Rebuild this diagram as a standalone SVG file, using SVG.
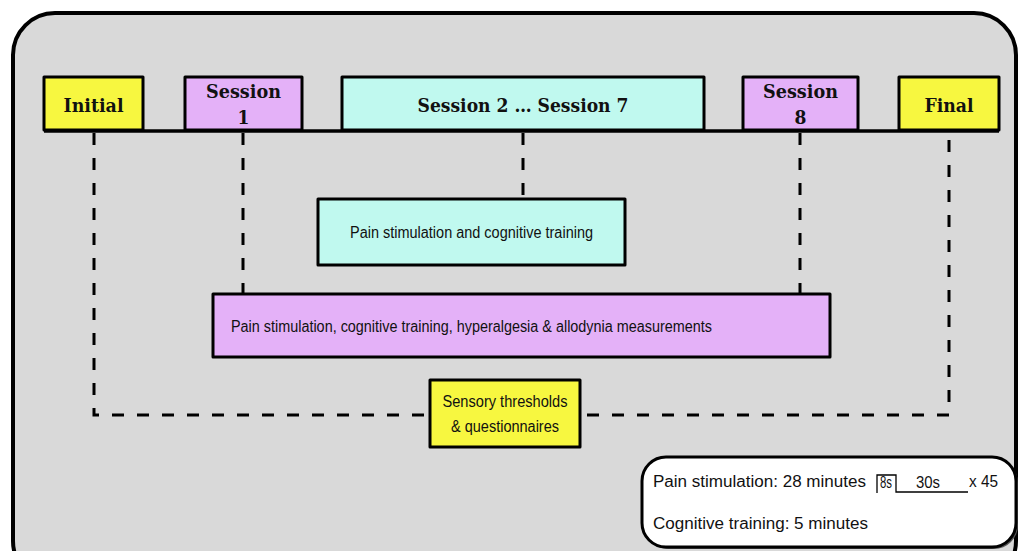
<svg xmlns="http://www.w3.org/2000/svg" width="1019" height="551" viewBox="0 0 1019 551">
<style>
.box{stroke:#000;stroke-width:3;stroke-linejoin:round}
.y{fill:#f7f740}.p{fill:#e4b1f8}.c{fill:#c0f9ef}
.t{font-family:"DejaVu Serif Condensed","DejaVu Serif",serif;font-weight:bold;font-size:19px;fill:#111;text-anchor:middle}
.b{font-family:"Liberation Sans",Arial,sans-serif;font-size:16px;fill:#111;text-anchor:middle}
.l{font-family:"Liberation Sans",Arial,sans-serif;font-size:16px;fill:#111}
.dash{fill:none;stroke:#000;stroke-width:3;stroke-dasharray:12 13}
</style>
<rect x="13" y="13" width="1003" height="570" rx="42" fill="#d9d9d9" stroke="#000" stroke-width="4"/>
<g id="connectors">
<line x1="44" y1="131" x2="999" y2="131" stroke="#000" stroke-width="3.5"/>
<polyline class="dash" points="94,133 94,415 949,415 949,133"/>
<line class="dash" x1="243" y1="133" x2="243" y2="293"/>
<line class="dash" x1="523" y1="133" x2="523" y2="198"/>
<line class="dash" x1="800" y1="133" x2="800" y2="293"/>
</g>
<g id="initial"><rect class="box y" x="44" y="77" width="99" height="53"/><text class="t" x="93.5" y="112" textLength="60" lengthAdjust="spacingAndGlyphs">Initial</text></g>
<g id="session1"><rect class="box p" x="185" y="77" width="117" height="53"/><text class="t" x="243.5" y="98" textLength="75" lengthAdjust="spacingAndGlyphs">Session</text><text class="t" x="243.5" y="124">1</text></g>
<g id="session27"><rect class="box c" x="342" y="77" width="362" height="53"/><text class="t" x="523" y="112" textLength="211" lengthAdjust="spacingAndGlyphs">Session 2 … Session 7</text></g>
<g id="session8"><rect class="box p" x="743" y="77" width="115" height="53"/><text class="t" x="800.5" y="98" textLength="75" lengthAdjust="spacingAndGlyphs">Session</text><text class="t" x="800.5" y="124">8</text></g>
<g id="final"><rect class="box y" x="899" y="77" width="100" height="53"/><text class="t" x="949" y="112" textLength="49" lengthAdjust="spacingAndGlyphs">Final</text></g>
<g id="pain-cog"><rect class="box c" x="318" y="199" width="307" height="66"/><text class="b" x="471.5" y="238" textLength="243" lengthAdjust="spacingAndGlyphs">Pain stimulation and cognitive training</text></g>
<g id="pain-full"><rect class="box p" x="213" y="294" width="617" height="63"/><text class="b" x="471.5" y="332" textLength="481" lengthAdjust="spacingAndGlyphs">Pain stimulation, cognitive training, hyperalgesia &amp; allodynia measurements</text></g>
<g id="sensory"><rect class="box y" x="430" y="380" width="150" height="67"/><text class="b" x="505" y="407" textLength="125" lengthAdjust="spacingAndGlyphs">Sensory thresholds</text><text class="b" x="505" y="432" textLength="108" lengthAdjust="spacingAndGlyphs">&amp; questionnaires</text></g>
<g id="legend">
<rect x="644" y="459" width="374" height="90" rx="24" fill="#555"/>
<rect x="642" y="457" width="374" height="90" rx="24" fill="#fff" stroke="#000" stroke-width="3"/>
<text class="l" x="653" y="487" textLength="213" lengthAdjust="spacingAndGlyphs">Pain stimulation: 28 minutes</text>
<polyline points="877,493 877,475 896,475 896,492 968,492" fill="none" stroke="#000" stroke-width="1.3"/>
<text class="l" x="880" y="488" font-size="9" textLength="12" lengthAdjust="spacingAndGlyphs">8s</text>
<text class="l" x="916" y="488" font-size="10" textLength="24" lengthAdjust="spacingAndGlyphs">30s</text>
<text class="l" x="969" y="487" font-size="14" textLength="29" lengthAdjust="spacingAndGlyphs">x 45</text>
<text class="l" x="653" y="529" textLength="215" lengthAdjust="spacingAndGlyphs">Cognitive training: 5 minutes</text>
</g>
</svg>
